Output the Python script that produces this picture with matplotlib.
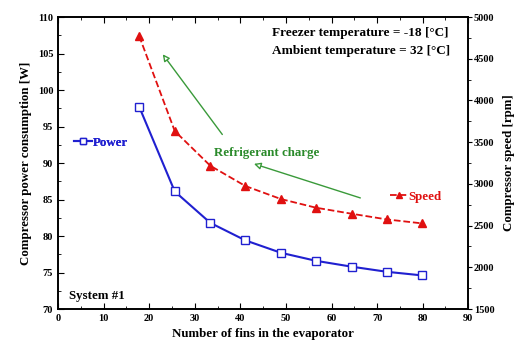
import matplotlib.pyplot as plt
from matplotlib.ticker import MultipleLocator

fins = [17.8, 25.6, 33.4, 41.1, 48.9, 56.6, 64.4, 72.1, 79.9]
power = [97.7, 86.1, 81.8, 79.4, 77.7, 76.6, 75.8, 75.1, 74.6]
speed = [4772, 3633, 3217, 2974, 2818, 2714, 2642, 2574, 2526]

plt.rcParams['font.family'] = 'Liberation Serif'
plt.rcParams['font.weight'] = 'bold'

def main():
	fig = plt.figure(figsize=(5.14, 3.47), dpi=100)
	ax = fig.add_axes([0.113, 0.1095, 0.798, 0.8415])
	ax2 = ax.twinx()

	l1, = ax.plot(fins, power, color='#2020d0', lw=1.5, marker='s', ms=6,
		mfc='white', mec='#2020d0', mew=1.0, label='Power')
	l2, = ax2.plot(fins, speed, color='#e01010', lw=1.3, ls='--', marker='^', ms=6,
		mfc='#e01010', mec='#e01010', label='Speed')

	ax.set_xlim(0, 90)
	ax.set_ylim(70, 110)
	ax2.set_ylim(1500, 5000)
	ax.xaxis.set_major_locator(MultipleLocator(10))
	ax.xaxis.set_minor_locator(MultipleLocator(5))
	ax.yaxis.set_major_locator(MultipleLocator(5))
	ax.yaxis.set_minor_locator(MultipleLocator(2.5))
	ax2.yaxis.set_major_locator(MultipleLocator(500))
	ax2.yaxis.set_minor_locator(MultipleLocator(250))
	ax.tick_params(which='both', direction='in', top=True, labelsize=7.5)
	ax.tick_params(which='major', length=4)
	ax.tick_params(which='minor', length=2)
	ax2.tick_params(which='both', direction='out', labelsize=7.5, pad=1)
	ax2.tick_params(which='major', length=3)
	ax2.tick_params(which='minor', length=2)
	for a in (ax, ax2):
		for s in a.spines.values():
			s.set_linewidth(1.2)

	ax.set_xlabel('Number of fins in the evaporator', fontsize=9.3, fontweight='bold')
	ax.set_ylabel('Compressor power consumption [W]', fontsize=9.3, fontweight='bold')
	ax2.set_ylabel('Compressor speed [rpm]', fontsize=9.3, fontweight='bold', labelpad=6)

	green = '#3a9a3a'
	ax.annotate('', xy=(22.6, 105.2), xytext=(36.4, 93.6),
		arrowprops=dict(arrowstyle='-|>', color=green, lw=1.0, fc='white', mutation_scale=10))
	ax.annotate('', xy=(42.4, 90.0), xytext=(66.9, 85.1),
		arrowprops=dict(arrowstyle='-|>', color=green, lw=1.0, fc='white', mutation_scale=10))
	ax.text(45.8, 91.4, 'Refrigerant charge', color='#2a8a2a', fontsize=9.3,
		fontweight='bold', ha='center', va='center')

	ax.text(47.0, 107.8, 'Freezer temperature = -18 [°C]', fontsize=9.5, fontweight='bold', va='center')
	ax.text(47.0, 105.3, 'Ambient temperature = 32 [°C]', fontsize=9.5, fontweight='bold', va='center')
	ax.text(2.5, 71.8, 'System #1', fontsize=9.3, fontweight='bold', va='center')

	leg1 = ax.legend(handles=[l1], loc='center left', bbox_to_anchor=(0.01, 0.57),
		frameon=False, fontsize=9.3, handlelength=1.4, handletextpad=0.05, markerscale=0.7)
	for t in leg1.get_texts():
		t.set_color('#2020d0')
	ax.add_artist(leg1)
	leg2 = ax2.legend(handles=[l2], loc='center left', bbox_to_anchor=(0.78, 0.385),
		frameon=False, fontsize=9.3, handlelength=1.4, handletextpad=0.05, markerscale=0.7)
	for t in leg2.get_texts():
		t.set_color('#e01010')

	plt.savefig('out.png', dpi=100)

if __name__ == "__main__":
	main()
